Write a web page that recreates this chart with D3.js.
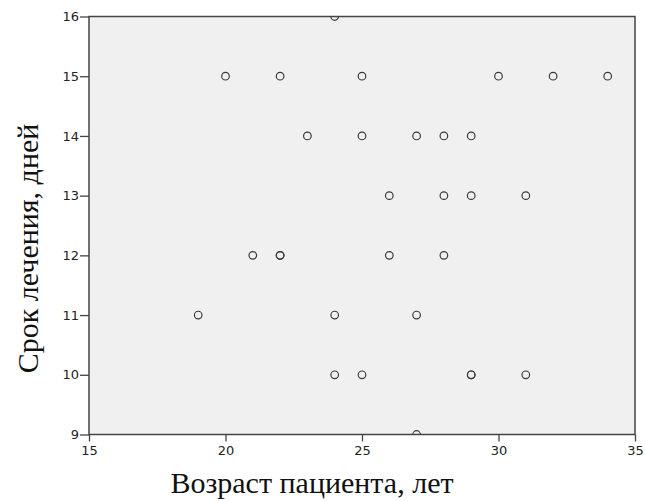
<!DOCTYPE html>
<html>
<head>
<meta charset="utf-8">
<script src="https://cdn.jsdelivr.net/npm/d3@7"></script>
<style>
  body { margin: 0; background: #fff; }
  .tick text { font-family: "DejaVu Sans", sans-serif; font-size: 13px; fill: #222; }
  .title { font-family: "Liberation Serif", "Times New Roman", serif; font-size: 30px; fill: #111; }
</style>
</head>
<body>
<div id="chart"></div>
<script>
// Data: age of patient (x) and treatment length in days (y)
const ages = [20, 22, 25, 30, 32, 34, 24, 23, 25, 27, 28, 29, 26, 28, 29, 31, 21, 22, 22, 26, 28, 19, 24, 27, 24, 25, 29, 29, 31, 27];
const days = [15, 15, 15, 15, 15, 15, 16, 14, 14, 14, 14, 14, 13, 13, 13, 13, 12, 12, 12, 12, 12, 11, 11, 11, 10, 10, 10, 10, 10, 9];
const xTicks = [15, 20, 25, 30, 35];
const yTicks = [9, 10, 11, 12, 13, 14, 15, 16];

const points = ages.map((a, i) => ({ age: a, days: days[i] }));

// Dimensions
const dimensions = { width: 645, height: 501, left: 89, right: 10, top: 16.5, bottom: 66.5 };
const ctrWidth = dimensions.width - dimensions.left - dimensions.right;
const ctrHeight = dimensions.height - dimensions.top - dimensions.bottom;

const svg = d3.select("#chart").append("svg")
  .attr("width", dimensions.width)
  .attr("height", dimensions.height);

const ctr = svg.append("g")
  .attr("transform", `translate(${dimensions.left}, ${dimensions.top})`);

// Scales
const xScale = d3.scaleLinear().domain([15, 35]).range([0, ctrWidth]);
const yScale = d3.scaleLinear().domain([9, 16]).range([ctrHeight, 0]);

// Plot background
ctr.append("rect")
  .attr("width", ctrWidth)
  .attr("height", ctrHeight)
  .attr("fill", "#f0f0f0");

svg.append("defs").append("clipPath").attr("id", "clip")
  .append("rect").attr("width", ctrWidth).attr("height", ctrHeight);

// Points
ctr.append("g")
  .attr("clip-path", "url(#clip)")
  .selectAll("circle")
  .data(points)
  .join("circle")
  .attr("cx", (d) => xScale(d.age))
  .attr("cy", (d) => yScale(d.days))
  .attr("r", 3.8)
  .attr("fill", "none")
  .attr("stroke", "#3a3a3a")
  .attr("stroke-width", 1.2);

// Frame
ctr.append("rect")
  .attr("width", ctrWidth)
  .attr("height", ctrHeight)
  .attr("fill", "none")
  .attr("stroke", "#444")
  .attr("stroke-width", 1.5);

// Axes
const xAxis = d3.axisBottom(xScale).tickValues(xTicks).tickFormat(d3.format("d")).tickSize(7).tickSizeOuter(0).tickPadding(4);
const yAxis = d3.axisLeft(yScale).tickValues(yTicks).tickFormat(d3.format("d")).tickSize(9).tickSizeOuter(0).tickPadding(1);

ctr.append("g").attr("transform", `translate(0, ${ctrHeight})`).call(xAxis)
  .call((g) => g.select(".domain").remove())
  .call((g) => g.selectAll(".tick line").attr("stroke", "#444").attr("stroke-width", 1.3));

ctr.append("g").call(yAxis)
  .call((g) => g.select(".domain").remove())
  .call((g) => g.selectAll(".tick line").attr("stroke", "#444").attr("stroke-width", 1.3));

// Titles
svg.append("text")
  .attr("class", "title")
  .attr("x", 312)
  .attr("y", 493)
  .attr("text-anchor", "middle")
  .text("Возраст пациента, лет");

svg.append("text")
  .attr("class", "title")
  .attr("transform", "translate(38, 248.5) rotate(-90)")
  .attr("text-anchor", "middle")
  .text("Срок лечения, дней");
</script>
</body>
</html>
